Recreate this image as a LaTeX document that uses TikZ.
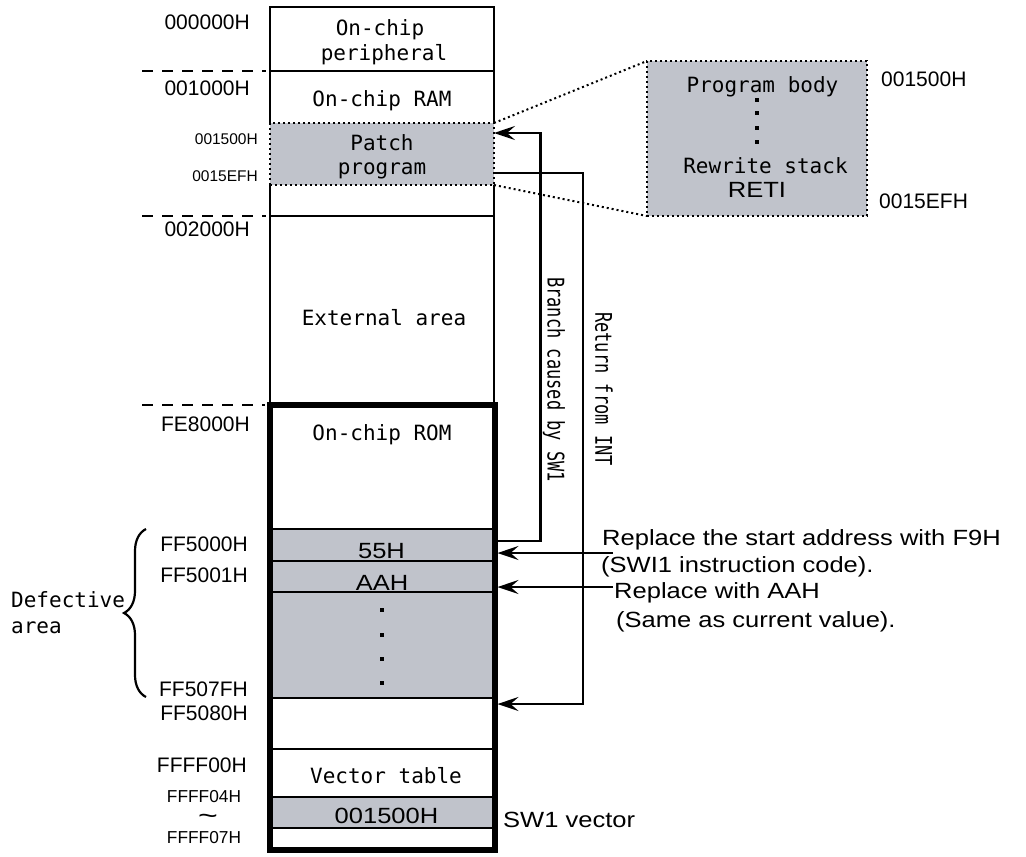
\documentclass[tikz,border=0pt]{standalone}
\usepackage{fontspec}
\newfontfamily\monof{DejaVu Sans Mono}
\newfontfamily\arialf{Liberation Sans}
\usetikzlibrary{arrows.meta,decorations.pathreplacing}
\definecolor{patchgray}{RGB}{192,195,203}
\newcommand{\wide}[1]{\scalebox{1.16}[1]{#1}}
\newcommand{\tallv}[1]{\scalebox{1}[1.35]{#1}}
\begin{document}
\begin{tikzpicture}[x=1pt,y=-1pt,
  mono/.style={font=\monof\fontsize{21}{25}\selectfont, inner sep=0, anchor=base},
  vmono/.style={font=\monof\fontsize{17}{20}\selectfont, inner sep=0, rotate=-90, anchor=west},
  sans/.style={font=\arialf\fontsize{22}{27}\selectfont, inner sep=0},
  addr/.style={font=\arialf\fontsize{21}{25}\selectfont, inner sep=0, anchor=base east},
  saddr/.style={font=\arialf\fontsize{15.5}{18}\selectfont, inner sep=0, anchor=base east},
  maddr/.style={font=\arialf\fontsize{17.3}{20}\selectfont, inner sep=0, anchor=base},
  thinl/.style={line width=2.2pt},
  thickbox/.style={draw, line width=6pt, inner sep=0},
  dotline/.style={line width=2pt, dash pattern=on 2pt off 3pt},
  dashline/.style={line width=2.5pt, dash pattern=on 11pt off 9pt},
  arr/.style={line width=2.2pt, -{Stealth[length=21pt,width=14pt,inset=8pt]}},
  region/.style={inner sep=0, outer sep=0, minimum width=224pt},
  dotsq/.style={fill=black, minimum size=4pt, inner sep=0, outer sep=0, rectangle}
]
\useasboundingbox (0,0) rectangle (1026,857);

% ---------- upper memory column ----------
\draw[thinl] (270,123) -- (270,7) -- (494,7) -- (494,123);
\draw[thinl] (270,71) -- (494,71);
\draw[thinl] (270,185) -- (270,405) (494,185) -- (494,405);
\draw[thinl] (270,216) -- (494,216);
\node[region, minimum height=62pt, fill=patchgray, draw, dotline] (patch) at (382,154) {};

\node[mono] (periph1) at (380,35) {On-chip};
\node[mono] (periph2) at (384,60) {peripheral};
\node[mono] (ram) at (382,106) {On-chip RAM};
\node[mono] (patch1) at (382,150) {Patch};
\node[mono] (patch2) at (382,174) {program};
\node[mono] (ext) at (384,325) {External area};

% ---------- ROM rows ----------
\node[region, minimum height=32pt, fill=patchgray, draw, thinl] (r55) at (382,545) {};
\node[region, minimum height=31pt, fill=patchgray, draw, thinl] (rAA) at (382,576.5) {};
\node[region, minimum height=106pt, fill=patchgray, draw, thinl] (rdots) at (382,645) {};
\node[region, minimum height=48pt, draw, thinl] (rvec) at (382,773) {};
\node[region, minimum height=31pt, fill=patchgray, draw, thinl] (rv15) at (382,812.5) {};
\node[thickbox, minimum width=224.5pt, minimum height=445pt] (rom) at (382.25,627.5) {};

\node[mono] (romt) at (382,440) {On-chip ROM};
\node[sans, anchor=base] (t55) at (381.5,558) {\wide{55H}};
\node[sans, anchor=base] (tAA) at (382,590) {\wide{AAH}};
\node[dotsq] (d1) at (382,610) {};
\node[dotsq] (d2) at (382,635) {};
\node[dotsq] (d3) at (382,659) {};
\node[dotsq] (d4) at (382,683) {};
\node[mono] (vect) at (386,783) {Vector table};
\node[sans, anchor=base] (v15t) at (386.5,823) {\wide{001500H}};

% ---------- dashed boundaries ----------
\draw[dashline] (142,71) -- (266,71);
\draw[dashline] (142,216) -- (266,216);
\draw[dashline] (142,405) -- (265,405);

% ---------- address labels ----------
\node[addr] (a0) at (250,29) {000000H};
\node[addr] (a1) at (250,95) {001000H};
\node[saddr] (a15) at (258,144) {001500H};
\node[saddr] (a15e) at (258,181) {0015EFH};
\node[addr] (a2) at (250,236) {002000H};
\node[addr] (afe) at (250,431) {FE8000H};
\node[addr] (af0) at (248,551) {FF5000H};
\node[addr] (af1) at (248,582) {FF5001H};
\node[addr] (af7f) at (248,696) {FF507FH};
\node[addr] (af80) at (248,720) {FF5080H};
\node[addr] (aff0) at (247,772) {FFFF00H};
\node[maddr] (aff4) at (204,802) {FFFF04H};
\node[font=\arialf\fontsize{26}{28}\selectfont, inner sep=0, anchor=base] (tilde) at (208,824) {\scalebox{1.3}[1]{\textasciitilde}};
\node[maddr] (aff7) at (204,843) {FFFF07H};

% ---------- defective area ----------
\draw[thinl, decorate, decoration={brace, amplitude=22pt}] (146,697) -- (146,529);
\node[font=\monof\fontsize{21}{25}\selectfont, inner sep=0, anchor=base west] (def1) at (11,607) {Defective};
\node[font=\monof\fontsize{21}{25}\selectfont, inner sep=0, anchor=base west] (def2) at (11,633) {area};

% ---------- zoomed patch box ----------
\node[inner sep=0, outer sep=0, minimum width=220pt, minimum height=155pt, fill=patchgray, draw, dotline] (zbox) at (757,138.5) {};
\draw[dotline] (patch.north east) -- (zbox.north west);
\draw[dotline] (patch.south east) -- (zbox.south west);
\node[mono] (pbody) at (762.5,92) {Program body};
\node[dotsq] (z1) at (757,100) {};
\node[dotsq] (z2) at (757,113) {};
\node[dotsq] (z3) at (757,128) {};
\node[dotsq] (z4) at (757,142) {};
\node[mono] (rws) at (765.5,173) {Rewrite stack};
\node[sans, anchor=base] (reti) at (757,197) {\wide{RETI}};
\node[addr, anchor=base west] (z15) at (881,86) {001500H};
\node[addr, anchor=base west] (z15e) at (879,208) {0015EFH};

% ---------- right-side texts ----------
\node[sans, anchor=base west] (t1) at (602,545) {\wide{Replace the start address with F9H}};
\node[sans, anchor=base west] (t2) at (601,572) {\wide{(SWI1 instruction code).}};
\node[sans, anchor=base west] (t3) at (614,598) {\wide{Replace with AAH}};
\node[sans, anchor=base west] (t4) at (616,627) {\wide{(Same as current value).}};
\node[sans, anchor=base west] (swv) at (503,827) {\wide{SW1 vector}};

% ---------- vertical labels ----------
\node[vmono] (lb) at (554,277) {\tallv{Branch caused by SW1}};
\node[vmono] (lr) at (604,312) {\tallv{Return from INT}};

% ---------- connectors ----------
\path (r55.east -| rom.east) ++(0,-4) coordinate (b0);
\draw[arr] (b0) -- ++(43,0) |- ([yshift=-10pt]patch.north east);
\path (rdots.south -| rom.east) ++(0,6) coordinate (rt1);
\draw[arr] ([yshift=12pt]patch.south east) -- ++(89,0) |- (rt1);
\path (t1.base west) ++(11,8) coordinate (c3);
\draw[arr] (c3) -- (c3 -| rom.east);
\path (t3.base west) ++(-1,-11) coordinate (c4);
\draw[arr] (c4) -- (c4 -| rom.east);
\end{tikzpicture}
\end{document}
